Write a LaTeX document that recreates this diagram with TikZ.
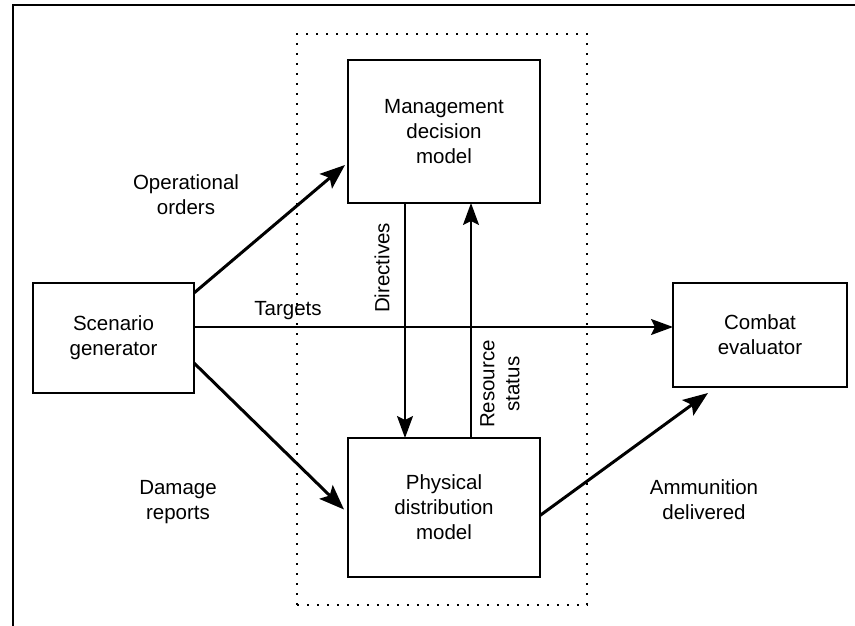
\documentclass[tikz,border=0pt]{standalone}
\usepackage{fontspec}
\setmainfont{Liberation Sans}
\usetikzlibrary{arrows.meta,calc}
\begin{document}
\begin{tikzpicture}[x=1pt,y=-1pt,
  every node/.style={font=\fontsize{20.5}{25}\selectfont},
  box/.style={draw, line width=1.8pt, outer sep=0pt, align=center, inner sep=2pt},
  lbl/.style={align=center, inner sep=1pt},
  thinarrow/.style={line width=1.8pt, -{Stealth[length=22pt,width=16pt,inset=4pt]}},
  thickarrow/.style={line width=3pt, -{Stealth[length=25pt,width=19pt,inset=5pt]}},
  dotbox/.style={draw, line width=2.4pt, dash pattern=on 2pt off 8pt, minimum width=290pt, minimum height=571pt, outer sep=0pt, inner sep=0pt},
  framestyle/.style={line width=2pt}]
\useasboundingbox (0,0) rectangle (855,626);
% partial frame
\draw[framestyle] (13,626) -- (13,5) -- (855,5);
% dotted group
\node[dotbox] (grp) at (442,319.5) {};
% boxes
\node[box, minimum width=161pt, minimum height=110pt] (scen) at (113.5,338) {Scenario\\generator};
\node[box, minimum width=174pt, minimum height=104pt] (comb) at (760,335) {Combat\\evaluator};
\node[box, minimum width=192pt, minimum height=143pt] (mgmt) at (444,131.5) {Management\\decision\\model};
\node[box, minimum width=192pt, minimum height=139pt] (phys) at (444,507.5) {Physical\\distribution\\model};
% helper coordinates
\coordinate (ty) at (0,327);
\coordinate (dx) at (405,0);
\coordinate (rx) at (471,0);
% connectors
\draw[thickarrow] ($(scen.north east)+(0,10)$) -- ($(mgmt.south west)+(-3,-38)$);
\draw[thickarrow] ($(scen.south east)+(0,-30)$) -- ($(phys.west)+(-4,2)$);
\draw[thinarrow] (scen.east |- ty) -- (comb.west |- ty);
\draw[thickarrow] ($(phys.east)+(0,8)$) -- ($(comb.south west)+(35,6)$);
\draw[thinarrow] (mgmt.south -| dx) -- (phys.north -| dx);
\draw[thinarrow] (phys.north -| rx) -- (mgmt.south -| rx);
% labels
\node[lbl] (lop) at (186,195) {Operational\\orders};
\node[lbl] (ltg) at (288,311) {Targets};
\node[lbl] (ldm) at (178,502) {Damage\\reports};
\node[lbl] (lam) at (704,500) {Ammunition\\delivered};
\node[lbl, rotate=90] (ldi) at (382,268) {Directives};
\node[lbl, rotate=90] (lrs) at (500,384) {Resource\\status};
\end{tikzpicture}
\end{document}
